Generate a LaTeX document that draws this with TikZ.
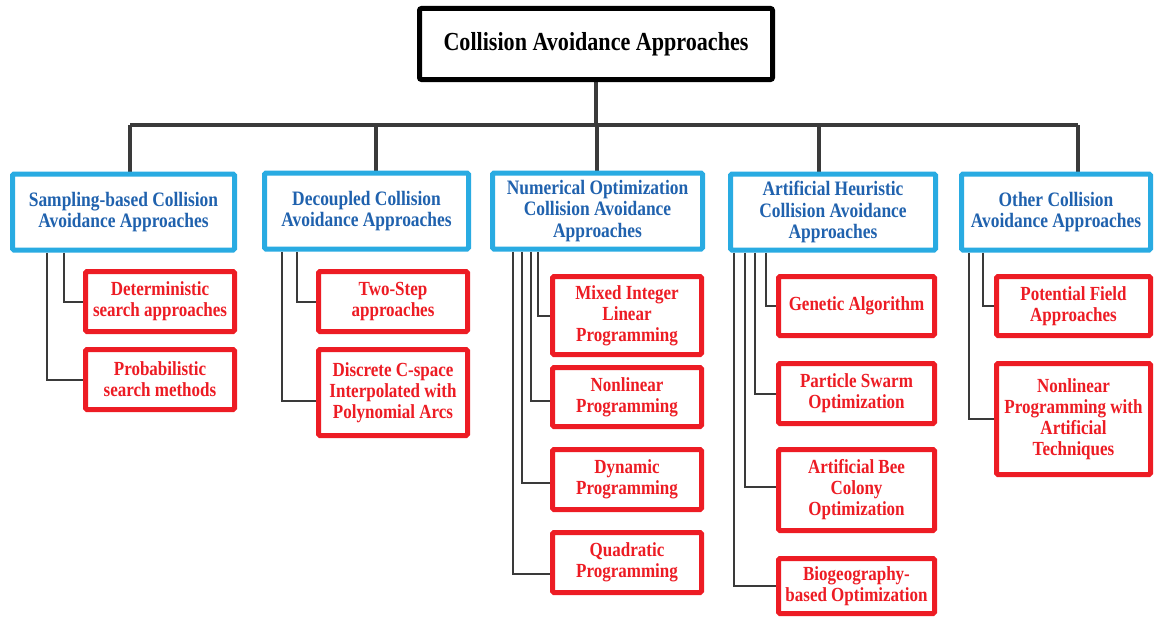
\documentclass[tikz,border=0pt]{standalone}
\usepackage{fontspec}
\setmainfont{Liberation Serif}[FakeStretch=0.85]
\usetikzlibrary{backgrounds}
\definecolor{catblue}{HTML}{29ABE2}
\definecolor{cattext}{HTML}{2062AE}
\definecolor{leafred}{HTML}{ED1C24}
\definecolor{linegray}{HTML}{3A3A3A}
\begin{document}
\begin{tikzpicture}[x=1pt,y=-1pt,
  rootbox/.style={draw=black, line width=5pt, rounded corners=2pt, fill=white,
    align=center, inner sep=0pt, font=\fontsize{26}{28}\selectfont\bfseries},
  catbox/.style={draw=catblue, line width=5pt, rounded corners=1.5pt, fill=white,
    align=center, inner sep=0pt, text=cattext, minimum height=76pt,
    font=\fontsize{20.5}{21.5}\selectfont\bfseries},
  leafbox/.style={draw=leafred, line width=5pt, rounded corners=1.5pt, fill=white,
    align=center, inner sep=0pt, text=leafred,
    font=\fontsize{20}{21}\selectfont\bfseries},
  trunk/.style={linegray, line width=3.5pt},
  branch/.style={linegray, line width=2pt},
]
\useasboundingbox (0,0) rectangle (1155,618);

% root
\node[rootbox, minimum width=353pt, minimum height=71pt] (R) at (596,44) {Collision Avoidance Approaches};

% categories
\node[catbox, minimum width=222pt] (B1) at (123.5,212) {Sampling-based Collision\\Avoidance Approaches};
\node[catbox, minimum width=204pt] (B2) at (366.5,211) {Decoupled Collision\\Avoidance Approaches};
\node[catbox, minimum width=210pt] (B3) at (597.5,211) {Numerical Optimization\\Collision Avoidance\\Approaches};
\node[catbox, minimum width=205pt] (B4) at (833,212) {Artificial Heuristic\\Collision Avoidance\\Approaches};
\node[catbox, minimum width=189pt] (B5) at (1056,212) {Other Collision\\Avoidance Approaches};

% leaves: sampling-based
\node[leafbox, minimum width=149pt, minimum height=60pt] (S1) at (160,301.5) {Deterministic\\search approaches};
\node[leafbox, minimum width=149pt, minimum height=60pt] (S2) at (160,379.5) {Probabilistic\\search methods};
% leaves: decoupled
\node[leafbox, minimum width=149pt, minimum height=60pt] (D1) at (393,301.5) {Two-Step\\approaches};
\node[leafbox, minimum width=149pt, minimum height=86pt] (D2) at (393,392.5) {Discrete C-space\\Interpolated with\\Polynomial Arcs};
% leaves: numerical optimization
\node[leafbox, minimum width=149pt, minimum height=78pt] (N1) at (627,315.5) {Mixed Integer\\Linear\\Programming};
\node[leafbox, minimum width=149pt, minimum height=59pt] (N2) at (627,397) {Nonlinear\\Programming};
\node[leafbox, minimum width=149pt, minimum height=60pt] (N3) at (627,479.5) {Dynamic\\Programming};
\node[leafbox, minimum width=149pt, minimum height=60pt] (N4) at (627,562.5) {Quadratic\\Programming};
% leaves: artificial heuristic
\node[leafbox, minimum width=156pt, minimum height=59pt] (A1) at (856.5,306) {Genetic Algorithm};
\node[leafbox, minimum width=156pt, minimum height=60pt] (A2) at (856.5,393.5) {Particle Swarm\\Optimization};
\node[leafbox, minimum width=156pt, minimum height=81pt] (A3) at (856.5,490) {Artificial Bee\\Colony\\Optimization};
\node[leafbox, minimum width=156pt, minimum height=55pt] (A4) at (856.5,586) {Biogeography-\\based Optimization};
% leaves: other
\node[leafbox, minimum width=154pt, minimum height=59pt] (O1) at (1073.5,306) {Potential Field\\Approaches};
\node[leafbox, minimum width=154pt, minimum height=111pt] (O2) at (1073.5,419) {Nonlinear\\Programming with\\Artificial\\Techniques};

% x positions of the bus drops and of the branch rails
\coordinate (t1) at (130,125);
\coordinate (t2) at (376,125);
\coordinate (t3) at (597,125);
\coordinate (t4) at (819,125);
\coordinate (t5) at (1078,125);
\coordinate (xs2) at (47,0);   \coordinate (xs1) at (64,0);
\coordinate (xd2) at (282,0);  \coordinate (xd1) at (297,0);
\coordinate (xn4) at (513,0);  \coordinate (xn3) at (522,0);
\coordinate (xn2) at (531,0);  \coordinate (xn1) at (538,0);
\coordinate (xa4) at (734,0);  \coordinate (xa3) at (745,0);
\coordinate (xa2) at (755,0);  \coordinate (xa1) at (766,0);
\coordinate (xo2) at (969,0);  \coordinate (xo1) at (983,0);

\begin{pgfonlayer}{background}
  % trunk and bus
  \draw[trunk] (R.south) -- (R.south |- t3);
  \draw[trunk] (t1) -- (t5);
  \foreach \t/\b in {t1/B1,t2/B2,t3/B3,t4/B4,t5/B5}
    \draw[trunk] (\t) -- (\t |- \b.north);
  % branches
  \draw[branch] (B1.south -| xs1) |- (S1.west);
  \draw[branch] (B1.south -| xs2) |- (S2.west);
  \draw[branch] (B2.south -| xd1) |- (D1.west);
  \draw[branch] (B2.south -| xd2) |- ([yshift=-8.5pt]D2.west);
  \draw[branch] (B3.south -| xn1) |- (N1.west);
  \draw[branch] (B3.south -| xn2) |- ([yshift=-4pt]N2.west);
  \draw[branch] (B3.south -| xn3) |- ([yshift=-3.5pt]N3.west);
  \draw[branch] (B3.south -| xn4) |- ([yshift=-11pt]N4.west);
  \draw[branch] (B4.south -| xa1) |- (A1.west);
  \draw[branch] (B4.south -| xa2) |- (A2.west);
  \draw[branch] (B4.south -| xa3) |- ([yshift=3pt]A3.west);
  \draw[branch] (B4.south -| xa4) |- (A4.west);
  \draw[branch] (B5.south -| xo1) |- (O1.west);
  \draw[branch] (B5.south -| xo2) |- (O2.west);
\end{pgfonlayer}
\end{tikzpicture}
\end{document}
